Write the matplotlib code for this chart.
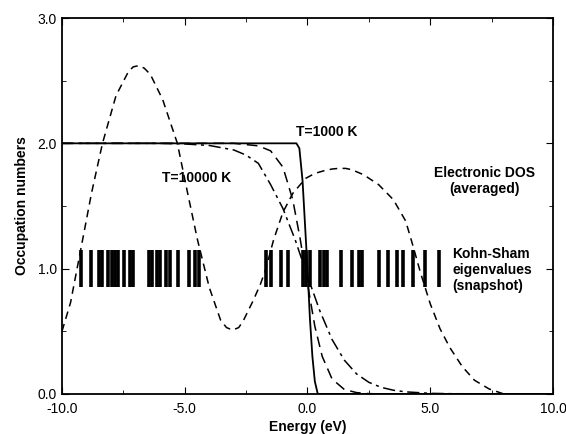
import matplotlib
matplotlib.use("Agg")
import matplotlib.pyplot as plt
from matplotlib.ticker import MultipleLocator, FormatStrFormatter

plt.rcParams['font.family'] = ['Liberation Sans', 'DejaVu Sans']

# occupation curves (energy in eV, occupation)
e_1000 = [-10.0, -0.45, -0.33, -0.2, -0.1, 0.0, 0.1, 0.2, 0.3, 0.42, 10.0]
occ_1000 = [2.0, 2.0, 1.96, 1.7, 1.35, 1.0, 0.6, 0.3, 0.1, 0.0, 0.0]

e_5000 = [-10.0, -3.0, -2.0, -1.5, -1.0, -0.6, -0.3, 0.0, 0.3, 0.6, 1.0, 1.5, 2.0, 2.5, 3.0, 10.0]
occ_5000 = [2.0, 2.0, 1.98, 1.94, 1.81, 1.55, 1.24, 0.88, 0.54, 0.30, 0.12, 0.036, 0.011, 0.003, 0.0, 0.0]

e_10000 = [-10.0, -6.0, -5.0, -4.0, -3.0, -2.5, -2.0, -1.5, -1.0, -0.5, 0.0, 0.5, 1.0,
           1.5, 2.0, 2.5, 3.0, 3.5, 4.0, 5.0, 6.0, 10.0]
occ_10000 = [2.0, 2.0, 1.995, 1.983, 1.947, 1.906, 1.84, 1.67, 1.48, 1.23, 0.94, 0.665, 0.435,
             0.27, 0.16, 0.093, 0.053, 0.030, 0.017, 0.005, 0.002, 0.0]

# averaged electronic DOS (dashed)
e_dos = [-10.0, -9.65, -9.16, -8.8, -8.35, -7.8, -7.3, -7.1, -6.88, -6.65, -6.4, -5.9, -5.3,
         -4.9, -4.48, -4.0, -3.54, -3.3, -3.05, -2.8, -2.6, -2.2, -1.91, -1.71, -1.38, -1.0,
         -0.6, -0.08, 0.3, 0.65, 1.0, 1.26, 1.55, 1.8, 2.28, 2.9, 3.5, 4.0, 4.3, 4.6, 5.0, 5.4,
         5.8, 6.3, 6.8, 7.4, 8.0]
dos = [0.50, 0.73, 1.23, 1.6, 2.0, 2.38, 2.57, 2.61, 2.62, 2.60, 2.55, 2.35, 2.0,
       1.62, 1.23, 0.85, 0.59, 0.53, 0.51, 0.53, 0.59, 0.75, 0.88, 0.99, 1.23, 1.45,
       1.6, 1.72, 1.76, 1.78, 1.795, 1.80, 1.80, 1.79, 1.75, 1.67, 1.55, 1.38, 1.18, 0.97,
       0.72, 0.52, 0.37, 0.22, 0.11, 0.04, 0.0]

# Kohn-Sham eigenvalues (snapshot)
eigs = [-9.21, -8.82, -8.51, -8.39, -8.13, -7.98, -7.84, -7.72, -7.49, -7.23, -7.11,
        -6.46, -6.33, -6.13, -5.99, -5.76, -5.60, -5.27, -4.81, -4.60, -4.42,
        -1.67, -1.47, -1.08, -0.79, -0.18, -0.06, 0.12, 0.49, 0.67, 0.81, 1.36,
        1.83, 2.08, 2.24, 2.93, 3.26, 3.63, 3.91, 4.28, 4.77, 5.34]

fig = plt.figure(figsize=(5.66, 4.34), dpi=100)
ax = fig.add_axes([0.1095, 0.0922, 0.8675, 0.8663])

ax.vlines(eigs, 0.85, 1.15, colors='black', linewidth=2.6)

ax.plot(e_1000, occ_1000, color='black', linewidth=1.3)
ax.plot(e_5000, occ_5000, color='black', linewidth=1.1, dashes=(7, 4))
ax.plot(e_10000, occ_10000, color='black', linewidth=1.1, dashes=(8, 3, 2, 3))
ax.plot(e_dos, dos, color='black', linewidth=1.1, dashes=(5, 3.5))

ax.set_xlim(-10, 10)
ax.set_ylim(0, 3)
ax.xaxis.set_major_locator(MultipleLocator(5))
ax.xaxis.set_minor_locator(MultipleLocator(2.5))
ax.yaxis.set_major_locator(MultipleLocator(1))
ax.yaxis.set_minor_locator(MultipleLocator(0.5))
ax.xaxis.set_major_formatter(FormatStrFormatter('%.1f'))
ax.yaxis.set_major_formatter(FormatStrFormatter('%.1f'))
ax.tick_params(which='both', direction='in', top=True, right=True, labelsize=10)
ax.tick_params(which='major', length=5)
ax.tick_params(which='minor', length=3)
ax.tick_params(axis='x', pad=6)
for s in ax.spines.values():
    s.set_linewidth(1.3)

ax.set_xlabel('Energy (eV)', fontsize=10, fontweight='bold', labelpad=3)
ax.set_ylabel('Occupation numbers', fontsize=10, fontweight='bold', labelpad=6)

bold = dict(fontsize=10, fontweight='bold')
ax.text(0.8, 2.09, 'T=1000 K', ha='center', va='center', **bold)
ax.text(-4.5, 1.72, 'T=10000 K', ha='center', va='center', **bold)
ax.text(7.2, 1.70, 'Electronic DOS\n(averaged)', ha='center', va='center',
        linespacing=1.15, **bold)
ax.text(5.9, 0.99, 'Kohn-Sham\neigenvalues\n(snapshot)', ha='left', va='center',
        linespacing=1.2, **bold)

fig.savefig('out.png', dpi=100)
